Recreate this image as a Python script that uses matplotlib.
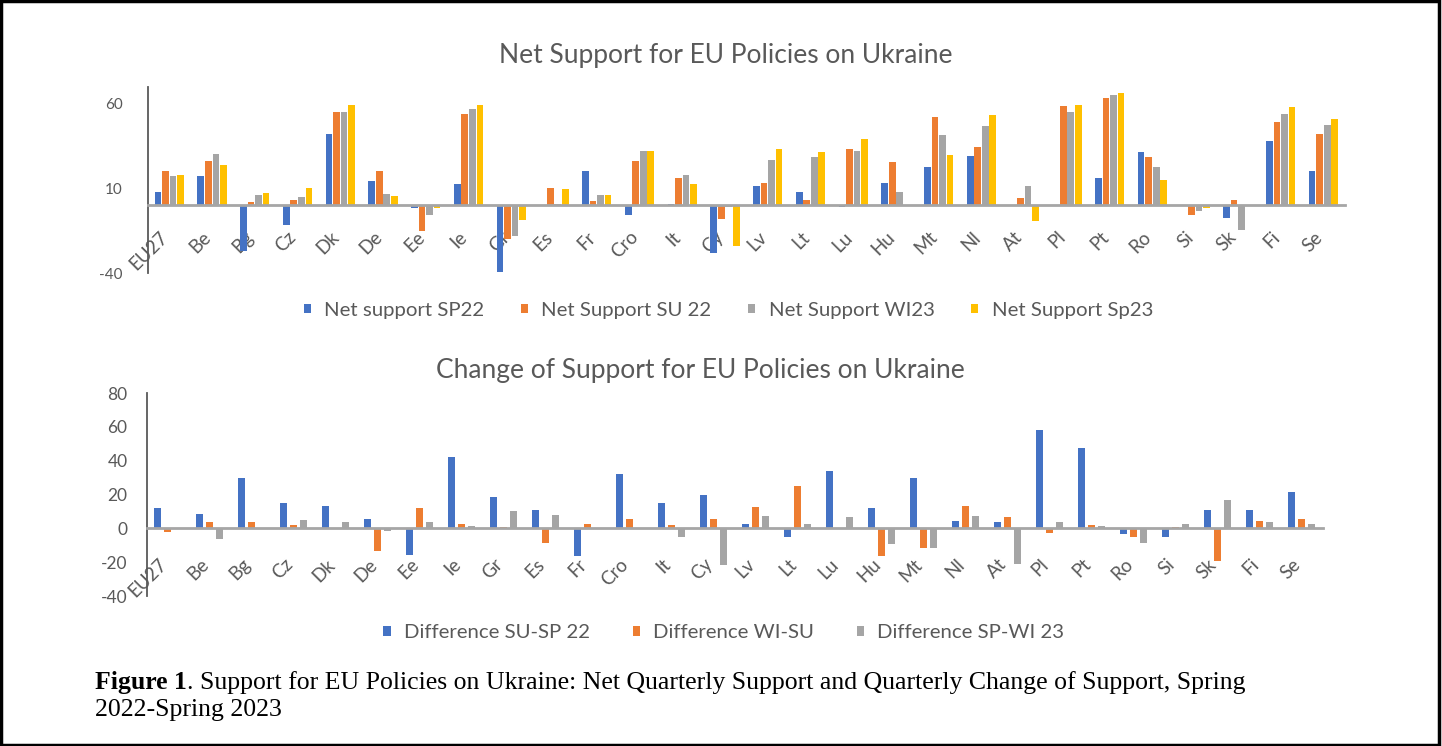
import matplotlib.pyplot as plt
import matplotlib.transforms as mtransforms
import numpy as np
from matplotlib.patches import Rectangle

# country codes, same order in both panels
cats = ["EU27", "Be", "Bg", "Cz", "Dk", "De", "Ee", "Ie", "Gr", "Es", "Fr", "Cro", "It", "Cy",
        "Lv", "Lt", "Lu", "Hu", "Mt", "Nl", "At", "Pl", "Pt", "Ro", "Si", "Sk", "Fi", "Se"]

# top panel: net support per survey wave
net_sp22 = [8, 17.5, -27, -11.5, 41.8, 14.5, -1.4, 12.4, -39.6, -0.7, 20.4, -5.7, 1.0, -28,
            11.4, 8, -1, 13, 22.4, 29, 0, 0.4, 15.9, 31.6, -0.7, -7.6, 38, 20.4]
net_su22 = [20.4, 26, 2, 3, 55, 20.4, -15.5, 53.7, -20, 10, 2.7, 26, 15.9, -8.2,
            13, 3, 33, 25.7, 52, 34.5, 4, 58.4, 63, 28.2, -5.7, 3, 48.8, 41.8]
net_wi23 = [17.5, 30, 6, 5, 54.7, 6.7, -5.7, 56.7, -18, 1, 6, 32, 17.8, -1,
            26.7, 28.6, 32, 8, 41.4, 47, 11.4, 55, 65, 22.7, -3.7, -14.5, 53.7, 47.6]
net_sp23 = [17.8, 23.7, 7, 10, 59, 5.5, -1.4, 59, -8.6, 9.6, 6, 32, 12.5, -24.3,
            33, 31.6, 38.8, 0.3, 29.6, 53.5, -9.6, 59, 66.3, 14.9, -1.8, 0.3, 58, 50.6]

# bottom panel: quarter-on-quarter change
diff_su_sp = [12.3, 8.7, 30, 15, 13.3, 5.7, -15.8, 42, 18.8, 10.7, -16.4, 32, 14.9, 19.8,
              2.4, -5, 34, 12.3, 30, 4.4, 4, 58, 47.3, -3.5, -5, 10.7, 10.7, 21.8]
diff_wi_su = [-2, 4, 4, 2, 0.3, -13.5, 12.3, 2.8, 1, -8.5, 2.8, 5.3, 2, 5.7,
              12.7, 25, 0.3, -16.4, -11.5, 13.3, 7, -3, 2, -5, 0.8, -19.4, 4.4, 5.7]
diff_sp_wi = [0.3, -6, 0.5, 5, 4, -1.5, 4, 1.6, 10.3, 7.7, 0.3, 0.3, -5, -21.4,
              7.3, 2.4, 7, -9.5, -11.5, 7.3, -21, 4, 1.6, -8.5, 2.4, 16.8, 4, 2.4]

top_series = [("Net support SP22", net_sp22), ("Net Support SU 22", net_su22),
              ("Net Support WI23", net_wi23), ("Net Support Sp23", net_sp23)]
bot_series = [("Difference SU-SP 22", diff_su_sp), ("Difference WI-SU", diff_wi_su),
              ("Difference SP-WI 23", diff_sp_wi)]

colors = ["#4472C4", "#ED7D31", "#A5A5A5", "#FFC000"]
txt = "#595959"

plt.rcParams['font.family'] = ['Lato', 'DejaVu Sans']
plt.rcParams['axes.unicode_minus'] = False

fig = plt.figure(figsize=(14.42, 7.46), dpi=100)
x = np.arange(len(cats))


def style_axis(ax, ylim, yticks, xpad, ypad, ysize):
    ax.set_xlim(-0.5, len(cats) - 0.5)
    ax.set_ylim(*ylim)
    ax.set_yticks(yticks)
    for s in ["top", "right"]:
        ax.spines[s].set_visible(False)
    ax.spines["bottom"].set_position(("data", 0))
    ax.spines["bottom"].set_color("#A6A6A6")
    ax.spines["bottom"].set_linewidth(2)
    ax.spines["left"].set_color("#595959")
    ax.spines["left"].set_linewidth(1.3)
    ax.set_xticks(x)
    ax.set_xticklabels(cats, rotation=45, ha="right", va="center", rotation_mode="anchor")
    ax.tick_params(axis="x", length=0, pad=xpad, labelsize=13.5, labelcolor=txt)
    ax.tick_params(axis="y", length=0, pad=ypad, labelsize=ysize, labelcolor=txt)
    # nudge the slanted labels a little to the left, like the original
    shift = mtransforms.ScaledTranslation(-4 / 100, 0, fig.dpi_scale_trans)
    for lab in ax.get_xticklabels():
        lab.set_transform(lab.get_transform() + shift)


# top chart
ax1 = fig.add_axes([0.1026, 0.634, 0.830, 0.250])
step, w = 0.176, 0.155
for i, (lab, vals) in enumerate(top_series):
    ax1.bar(x + (i - 1.5) * step, vals, width=w, color=colors[i], label=lab, zorder=2)
style_axis(ax1, (-40, 70), [-40, 10, 60], xpad=21, ypad=18, ysize=11)
fig.text(0.503, 0.926, "Net Support for EU Policies on Ukraine", ha="center", va="center",
         fontsize=19, color=txt)
fig.legend(*ax1.get_legend_handles_labels(), loc="center", bbox_to_anchor=(0.505, 0.584), ncol=4,
           frameon=False, fontsize=14.7, handlelength=0.35, handleheight=0.35, handletextpad=0.65,
           columnspacing=1.8, labelcolor=txt)

# bottom chart
ax2 = fig.add_axes([0.1019, 0.201, 0.8155, 0.272])
step, w = 0.238, 0.167
for i, (lab, vals) in enumerate(bot_series):
    ax2.bar(x + (i - 1) * step, vals, width=w, color=colors[i], label=lab, zorder=2)
style_axis(ax2, (-40, 80), np.arange(-40, 81, 20), xpad=24, ypad=14, ysize=12.5)
fig.text(0.486, 0.503, "Change of Support for EU Policies on Ukraine", ha="center", va="center",
         fontsize=19, color=txt)
fig.legend(*ax2.get_legend_handles_labels(), loc="center", bbox_to_anchor=(0.502, 0.1515), ncol=3,
           frameon=False, fontsize=14.7, handlelength=0.35, handleheight=0.35, handletextpad=0.65,
           columnspacing=2.1, labelcolor=txt)

# caption: bold figure number followed by regular text
cap = fig.text(0.066, 0.077, "Figure 1", fontsize=18.5, fontweight="bold",
               family="Liberation Serif", color="black", va="baseline")
plt.annotate(". Support for EU Policies on Ukraine: Net Quarterly Support and Quarterly Change of Support, Spring",
             xy=(1, 0), xycoords=cap, va="bottom", ha="left", fontsize=18.5,
             family="Liberation Serif", color="black", annotation_clip=False)
fig.text(0.066, 0.040, "2022-Spring 2023", fontsize=18.5, family="Liberation Serif",
         color="black", va="baseline")

# frame around the whole figure
fig.patches.append(Rectangle((0.001, 0.002), 0.997, 0.996, transform=fig.transFigure,
                             fill=False, edgecolor="black", linewidth=2.5))

fig.savefig("out.png", dpi=100)
